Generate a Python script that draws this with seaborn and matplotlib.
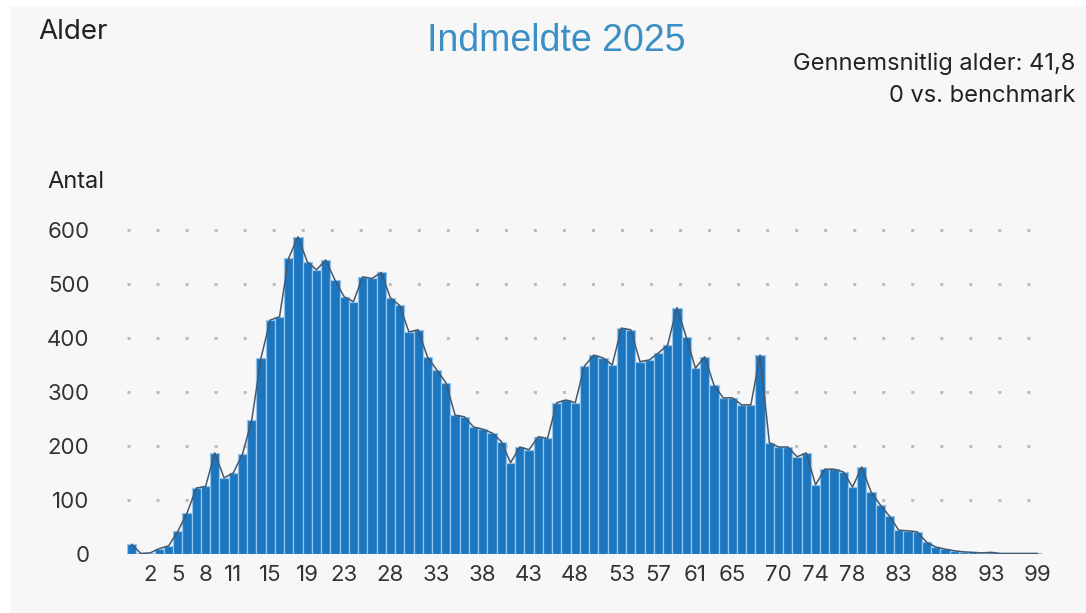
import matplotlib
matplotlib.use("Agg")
import matplotlib.pyplot as plt
from matplotlib.patches import Rectangle
import pandas as pd
import seaborn as sns

# Ages present on the axis (97 does not occur)
ages = list(range(0, 97)) + [98, 99]
antal = [18, 1, 2, 10, 15, 42, 76, 122, 125, 187,
         141, 150, 185, 248, 363, 433, 439, 548, 587, 541,
         526, 544, 507, 476, 467, 513, 510, 521, 474, 460,
         411, 415, 365, 341, 317, 257, 254, 235, 231, 224,
         208, 169, 198, 193, 217, 214, 280, 285, 280, 348,
         368, 363, 350, 418, 415, 356, 359, 372, 387, 456,
         402, 344, 365, 313, 289, 289, 276, 276, 368, 206,
         198, 198, 180, 187, 128, 157, 157, 152, 124, 161,
         115, 91, 70, 44, 43, 41, 22, 13, 9, 6,
         4, 3, 2, 3, 1, 1, 1, 1, 1]
tick_ages = [2, 5, 8, 11, 15, 19, 23, 28, 33, 38, 43, 48, 53, 57, 61, 65,
             70, 74, 78, 83, 88, 93, 99]
y_ticks = [0, 100, 200, 300, 400, 500, 600]

title = "Indmeldte 2025"
subtitle_lines = ["Gennemsnitlig alder: 41,8", "0 vs. benchmark"]

df = pd.DataFrame({"alder": [str(a) for a in ages], "antal": antal})
order = [str(a) for a in ages]

sns.set_theme(style="white")
plt.rcParams["font.family"] = ["Inter", "DejaVu Sans"]

bg = "#f7f7f7"
fig = plt.figure(figsize=(10.86, 6.13), dpi=100, facecolor="white")
fig.patches.append(Rectangle((10 / 1086, 0), 1, 1 - 6 / 613, transform=fig.transFigure,
                             facecolor=bg, edgecolor="none", zorder=-10))

ax = fig.add_axes([127 / 1086, 59 / 613, 915 / 1086, 335 / 613])
ax.set_facecolor(bg)

sns.barplot(data=df, x="alder", y="antal", order=order, color="#1b75bf",
            width=1.0, edgecolor="#93c6ee", linewidth=0.9, saturation=1,
            errorbar=None, ax=ax, zorder=3)
sns.pointplot(data=df, x="alder", y="antal", order=order, color="#45596d",
              marker="", linewidth=1.1, errorbar=None, ax=ax, zorder=4)

ax.set_xlim(-0.5, len(ages) - 0.5)
ax.set_ylim(0, 620)
ax.set_yticks(y_ticks)
ax.set_yticklabels([str(v) for v in y_ticks], fontsize=16, color="#333333")
ax.set_xticks([order.index(str(a)) for a in tick_ages])
ax.set_xticklabels([str(a) for a in tick_ages], fontsize=16, color="#333333")
ax.tick_params(axis="both", length=0)
ax.tick_params(axis="x", pad=8)
ax.tick_params(axis="y", pad=27)
ax.yaxis.grid(True, color="#bdbdbd", linestyle=(0, (1, 8.5)), linewidth=2.2)
ax.set_axisbelow(True)
for s in ax.spines.values():
    s.set_visible(False)
ax.set_xlabel("")
ax.set_ylabel("")

fig.text(38 / 1086, 1 - 32 / 613, "Alder", fontsize=20, color="#222222",
         ha="left", va="center")
fig.text(556 / 1086, 1 - 41 / 613, title, fontsize=27, color="#3a8fc4",
         ha="center", va="center", family="Liberation Sans")
fig.text(1075 / 1086, 1 - 64 / 613, subtitle_lines[0], fontsize=17, color="#222222",
         ha="right", va="center")
fig.text(1075 / 1086, 1 - 96 / 613, subtitle_lines[1], fontsize=17, color="#222222",
         ha="right", va="center")
fig.text(47 / 1086, 1 - 182 / 613, "Antal", fontsize=17, color="#222222",
         ha="left", va="center")

fig.savefig("out.png", dpi=100, facecolor=fig.get_facecolor())
